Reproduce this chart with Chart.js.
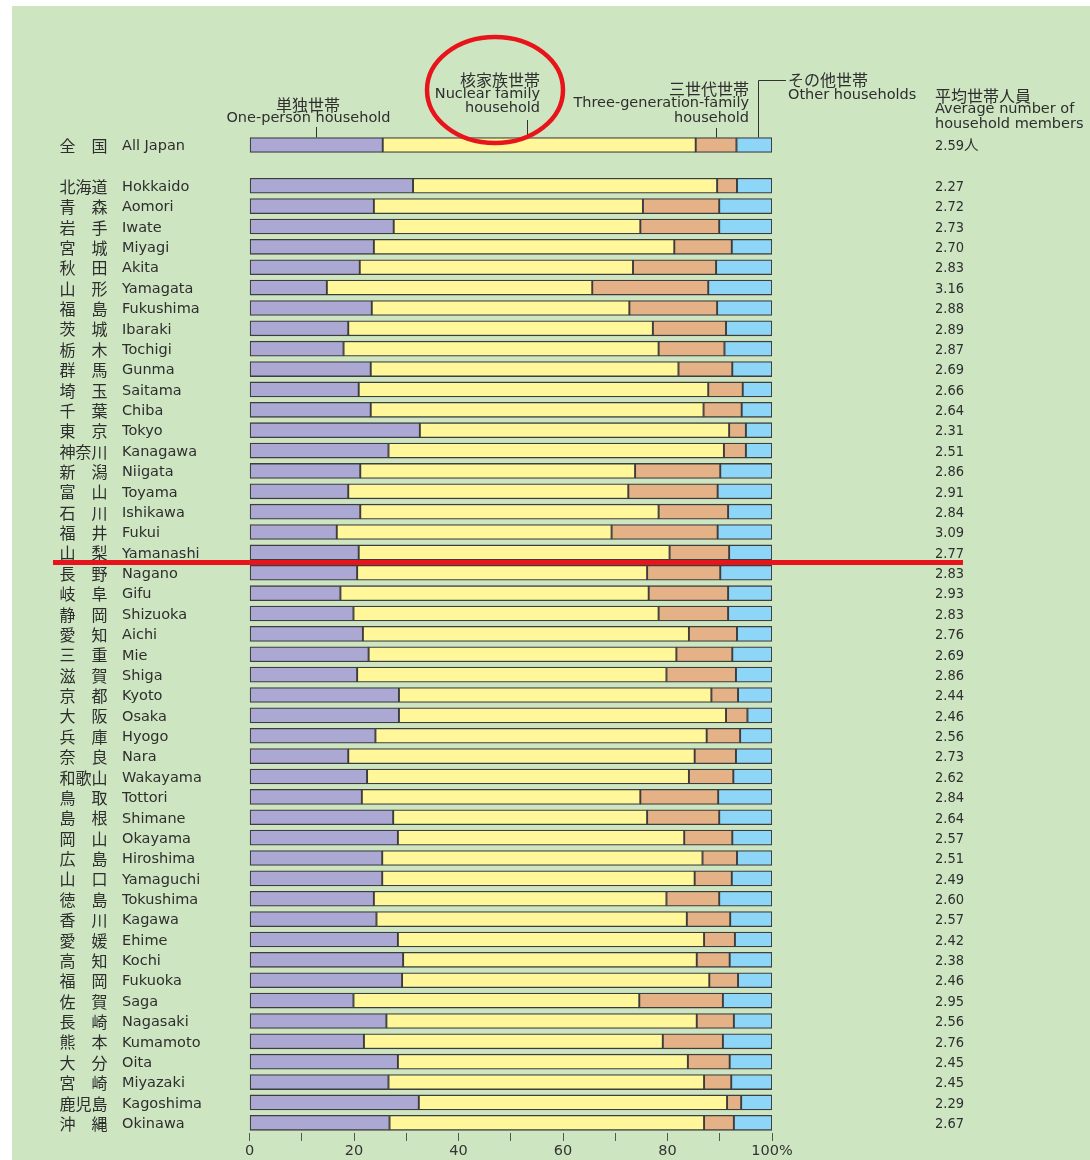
<!DOCTYPE html>
<html><head><meta charset="utf-8">
<script src="https://cdn.jsdelivr.net/npm/chart.js@4.4.1/dist/chart.umd.min.js"></script>
<style>
html,body{margin:0;padding:0;background:#ffffff;}
#wrap{position:absolute;left:12px;top:6px;width:1078px;height:1154px;background:#cee5c2;}
canvas{display:block;}
</style></head><body>
<div id="wrap"><canvas id="c" width="1078" height="1154"></canvas></div>
<script>
const kanji = ['全国','北海道','青森','岩手','宮城','秋田','山形','福島','茨城','栃木','群馬','埼玉','千葉','東京','神奈川','新潟','富山','石川','福井','山梨','長野','岐阜','静岡','愛知','三重','滋賀','京都','大阪','兵庫','奈良','和歌山','鳥取','島根','岡山','広島','山口','徳島','香川','愛媛','高知','福岡','佐賀','長崎','熊本','大分','宮崎','鹿児島','沖縄'];
const english = ['All Japan','Hokkaido','Aomori','Iwate','Miyagi','Akita','Yamagata','Fukushima','Ibaraki','Tochigi','Gunma','Saitama','Chiba','Tokyo','Kanagawa','Niigata','Toyama','Ishikawa','Fukui','Yamanashi','Nagano','Gifu','Shizuoka','Aichi','Mie','Shiga','Kyoto','Osaka','Hyogo','Nara','Wakayama','Tottori','Shimane','Okayama','Hiroshima','Yamaguchi','Tokushima','Kagawa','Ehime','Kochi','Fukuoka','Saga','Nagasaki','Kumamoto','Oita','Miyazaki','Kagoshima','Okinawa'];
const onePerson = [25.5,31.3,23.8,27.6,23.8,21.1,14.8,23.4,18.9,18.0,23.2,20.9,23.2,32.6,26.6,21.2,18.9,21.2,16.7,20.9,20.6,17.4,19.9,21.7,22.8,20.6,28.6,28.6,24.1,18.9,22.5,21.5,27.5,28.4,25.4,25.4,23.8,24.3,28.4,29.4,29.2,19.9,26.2,21.9,28.4,26.6,32.4,26.8];
const nuclear = [59.9,58.2,51.5,47.2,57.5,52.3,50.8,49.3,58.3,60.3,58.9,66.9,63.7,59.2,64.2,52.6,53.6,57.1,52.6,59.5,55.5,59.0,58.4,62.4,58.9,59.2,59.8,62.6,63.4,66.3,61.6,53.3,48.6,54.8,61.3,59.8,56.0,59.4,58.6,56.2,58.8,54.7,59.4,57.2,55.5,60.4,59.0,60.2];
const threeGen = [7.8,3.8,14.6,15.1,11.0,15.9,22.2,16.8,14.0,12.6,10.3,6.6,7.3,3.2,4.2,16.3,17.1,13.3,20.3,11.4,14.0,15.2,13.3,9.2,10.7,13.3,5.1,4.1,6.4,7.9,8.5,14.9,13.8,9.2,6.6,7.1,10.1,8.3,5.9,6.3,5.5,16.0,7.1,11.5,8.0,5.2,2.7,5.7];
const other = [6.8,6.7,10.1,10.1,7.7,10.7,12.2,10.5,8.8,9.1,7.6,5.6,5.8,5.0,5.0,9.9,10.4,8.4,10.4,8.2,9.9,8.4,8.4,6.7,7.6,6.9,6.5,4.7,6.1,6.9,7.4,10.3,10.1,7.6,6.7,7.7,10.1,8.0,7.1,8.1,6.5,9.4,7.3,9.4,8.1,7.8,5.9,7.3];
const avgMembers = [2.59,2.27,2.72,2.73,2.70,2.83,3.16,2.88,2.89,2.87,2.69,2.66,2.64,2.31,2.51,2.86,2.91,2.84,3.09,2.77,2.83,2.93,2.83,2.76,2.69,2.86,2.44,2.46,2.56,2.73,2.62,2.84,2.64,2.57,2.51,2.49,2.60,2.57,2.42,2.38,2.46,2.95,2.56,2.76,2.45,2.45,2.29,2.67];
const xTickLabels = {0:'0',20:'20',40:'40',60:'60',80:'80',100:'100%'};
const seriesNames = ['単独世帯 One-person household','核家族世帯 Nuclear family household','三世代世帯 Three-generation-family household','その他世帯 Other households'];

// insert a blank row between All Japan and the prefectures
function withGap(arr, blank){ return [arr[0], blank].concat(arr.slice(1)); }
const rowLabels = withGap(english, '');
const rowKanji = withGap(kanji, '');
const avgLabels = withGap(avgMembers.map((v,i)=> v.toFixed(2) + (i===0 ? '人' : '')), '');

const colors = ['#aca8d4','#fff799','#e4b286','#8ed6f7'];
const edge = '#3d3d3d';
const EN = "'DejaVu Sans', 'Noto Sans CJK JP', sans-serif";
const NUM = "'DejaVu Sans Condensed', 'Liberation Sans Narrow', 'Noto Sans CJK JP', sans-serif";
const JP = "'Noto Sans CJK JP', sans-serif";
Chart.defaults.font.family = EN;
Chart.defaults.color = '#333';

const overlay = {
  id: 'overlay',
  afterDraw(chart){
    const ctx = chart.ctx, xs = chart.scales.x, ys = chart.scales.y;
    ctx.save();
    ctx.fillStyle = '#2e2e2e';
    ctx.textBaseline = 'middle';
    // prefecture names in kanji
    ctx.font = '16px ' + JP;
    ctx.textAlign = 'left';
    rowKanji.forEach((k, i) => {
      if (!k) return;
      const y = ys.getPixelForValue(i);
      const chars = Array.from(k);
      const slots = chars.length === 2 ? [0, 2] : [0, 1, 2];
      chars.forEach((c, j) => ctx.fillText(c, 47.5 + slots[j] * 16, y + 1));
    });
    // header annotations
    const barTop = ys.getPixelForValue(0) - 7.5;
    const segStart = [0, onePerson[0], onePerson[0] + nuclear[0], onePerson[0] + nuclear[0] + threeGen[0]];
    const segLen = [onePerson[0], nuclear[0], threeGen[0], other[0]];
    const frac = [0.5, 0.46, 0.5, 0.6];
    const lx = segStart.map((s, i) => Math.round(xs.getPixelForValue(s + segLen[i] * frac[i])) + 0.5);
    function txt(s, x, y, align, jp){ ctx.font = jp ? '16px ' + JP : '14.5px ' + EN; ctx.textAlign = align; ctx.fillText(s, x, y); }
    txt('単独世帯', 296, 99, 'center', true);
    txt('One-person household', 296.5, 112.5, 'center');
    txt('核家族世帯', 528, 73.5, 'right', true);
    txt('Nuclear family', 528, 88, 'right');
    txt('household', 528, 102.5, 'right');
    txt('三世代世帯', 737, 83, 'right', true);
    txt('Three-generation-family', 737, 97.5, 'right');
    txt('household', 737, 112, 'right');
    txt('その他世帯', 776, 74, 'left', true);
    txt('Other households', 776, 89, 'left');
    txt('平均世帯人員', 923, 89.5, 'left', true);
    txt('Average number of', 923, 103.5, 'left');
    txt('household members', 923, 118.5, 'left');
    ctx.strokeStyle = '#333';
    ctx.lineWidth = 1;
    ctx.beginPath();
    ctx.moveTo(lx[0], 121); ctx.lineTo(lx[0], barTop);
    ctx.moveTo(lx[1], 114); ctx.lineTo(lx[1], barTop);
    ctx.moveTo(lx[2], 122); ctx.lineTo(lx[2], barTop);
    ctx.moveTo(lx[3], barTop); ctx.lineTo(lx[3], 74.5); ctx.lineTo(774, 74.5);
    ctx.stroke();
    // red highlight marks
    ctx.strokeStyle = '#e8141c';
    ctx.lineWidth = 4.5;
    ctx.beginPath();
    ctx.ellipse(483, 84, 68, 53, 0, 0, Math.PI * 2);
    ctx.stroke();
    const yl = (ys.getPixelForValue(english.indexOf('Yamanashi') + 1) + ys.getPixelForValue(english.indexOf('Nagano') + 1)) / 2;
    ctx.lineWidth = 5;
    ctx.beginPath();
    ctx.moveTo(41, yl); ctx.lineTo(951, yl);
    ctx.stroke();
    ctx.restore();
  }
};

new Chart(document.getElementById('c'), {
  type: 'bar',
  data: {
    labels: rowLabels,
    datasets: [onePerson, nuclear, threeGen, other].map((d, i) => ({
      label: seriesNames[i],
      data: withGap(d, null),
      backgroundColor: colors[i],
      borderColor: edge,
      borderWidth: 1.3,
      borderSkipped: false,
      barThickness: 15
    }))
  },
  options: {
    indexAxis: 'y',
    responsive: false,
    animation: false,
    layout: { padding: { left: 110, top: 128.8, right: 0, bottom: 0 } },
    plugins: { legend: { display: false }, tooltip: { enabled: false } },
    scales: {
      x: {
        type: 'linear', stacked: true, min: 0, max: 100,
        border: { display: false },
        grid: { drawOnChartArea: false, drawTicks: true, tickLength: 8, color: '#555', lineWidth: 1 },
        ticks: { stepSize: 10, autoSkip: false, maxRotation: 0, padding: 2, color: '#333',
          font: { size: 14.5 }, callback: v => (v in xTickLabels ? xTickLabels[v] : '') },
        afterFit: s => { s.height = 27; s.paddingLeft = 0; s.paddingRight = 0; }
      },
      y: {
        type: 'category', stacked: true, offset: true,
        border: { display: false },
        grid: { display: false, drawTicks: false },
        ticks: { autoSkip: false, crossAlign: 'far', padding: 0, labelOffset: 1.5, color: '#2e2e2e', font: { size: 14.5 } },
        afterFit: s => { s.width = 127.5; s.paddingTop = 0; s.paddingBottom = 0; }
      },
      y2: {
        type: 'category', position: 'right', offset: true, labels: avgLabels,
        border: { display: false },
        grid: { display: false, drawTicks: false },
        ticks: { autoSkip: false, crossAlign: 'near', padding: 163, labelOffset: 1.5, color: '#2e2e2e', font: { family: NUM, size: 14.5 } },
        afterFit: s => { s.width = 318; s.paddingTop = 0; s.paddingBottom = 0; }
      }
    }
  },
  plugins: [overlay]
});
</script>
</body></html>
